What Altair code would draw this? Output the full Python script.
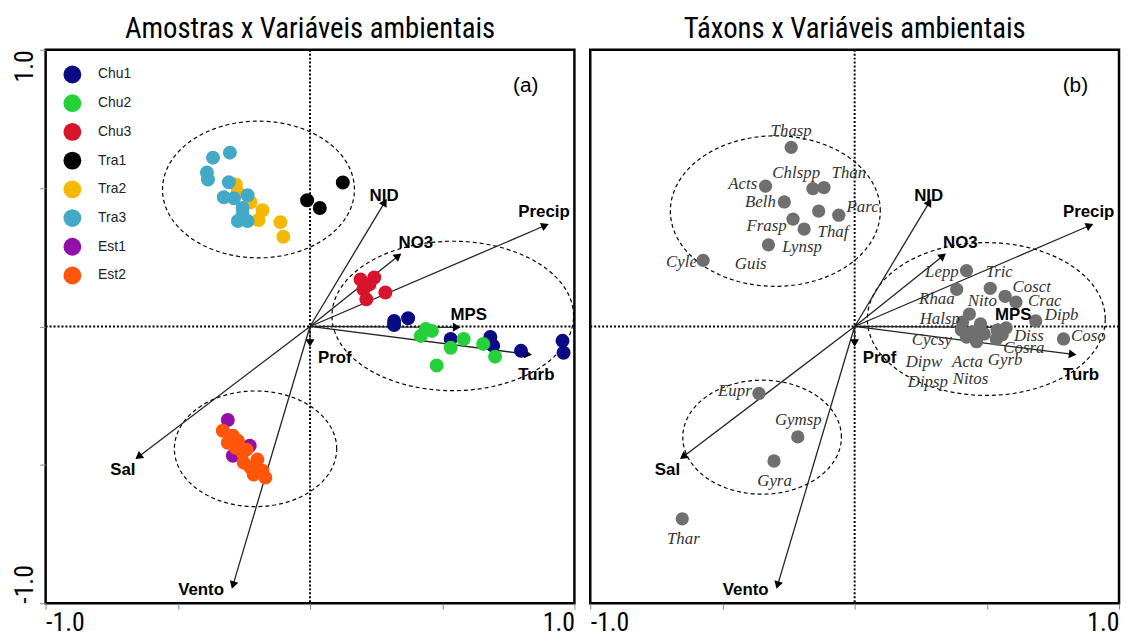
import altair as alt
import pandas as pd
import numpy as np

W, H = 534, 559
NARROW = "Liberation Sans Narrow, Roboto Condensed, DejaVu Sans Condensed, sans-serif"
SANS = "Liberation Sans, Arial, sans-serif"
SERIF = "Liberation Serif, Times New Roman, serif"

# ---------------- panel (a): samples ----------------
groups = ["Chu1", "Chu2", "Chu3", "Tra1", "Tra2", "Tra3", "Est1", "Est2"]
group_colors = ["#0a0a84", "#25d03a", "#d8142c", "#000000", "#f6b700", "#42a9c9", "#930fab", "#ff560a"]

chu1_x = [0.318, 0.371, 0.318, 0.532, 0.682, 0.693, 0.798, 0.955, 0.959]
chu1_y = [0.020, 0.030, 0.005, -0.045, -0.038, -0.070, -0.088, -0.052, -0.095]
chu2_x = [0.419, 0.461, 0.438, 0.532, 0.581, 0.655, 0.700, 0.479]
chu2_y = [-0.034, -0.016, -0.009, -0.077, -0.045, -0.063, -0.109, -0.141]
chu3_x = [0.191, 0.243, 0.202, 0.213, 0.285, 0.225]
chu3_y = [0.170, 0.177, 0.134, 0.098, 0.123, 0.152]
tra1_x = [0.124, -0.011, 0.037]
tra1_y = [0.520, 0.456, 0.428]
tra2_x = [-0.281, -0.273, -0.225, -0.180, -0.195, -0.112, -0.101]
tra2_y = [0.513, 0.485, 0.449, 0.420, 0.385, 0.377, 0.324]
tra3_x = [-0.367, -0.303, -0.390, -0.386, -0.307, -0.326, -0.288, -0.236, -0.255, -0.273, -0.236, -0.255]
tra3_y = [0.610, 0.628, 0.556, 0.531, 0.521, 0.467, 0.463, 0.474, 0.428, 0.381, 0.381, 0.403]
est1_x = [-0.311, -0.228, -0.292]
est1_y = [-0.338, -0.431, -0.467]
est2_x = [-0.330, -0.292, -0.273, -0.311, -0.255, -0.199, -0.251, -0.225, -0.180, -0.169, -0.213, -0.281, -0.240]
est2_y = [-0.377, -0.395, -0.413, -0.420, -0.456, -0.481, -0.492, -0.510, -0.521, -0.546, -0.535, -0.438, -0.445]

# ---------------- environmental vectors (both panels) ----------------
env_names = ["NID", "NO3", "Precip", "MPS", "Turb", "Prof", "Sal", "Vento"]
env_x = [0.28, 0.33, 0.885, 0.55, 0.82, 0.0, -0.645, -0.29]
env_y = [0.445, 0.252, 0.363, -0.003, -0.100, -0.055, -0.468, -0.93]
env_lab_x = [0.28, 0.40, 0.885, 0.60, 0.856, 0.094, -0.708, -0.412]
env_lab_y = [0.47, 0.30, 0.415, 0.043, -0.175, -0.115, -0.519, -0.952]

# ---------------- panel (b): taxa ----------------
taxa = ["Thasp", "Acts", "Chlspp", "Than", "Belh", "Parc", "Frasp", "Thaf", "Lynsp", "Guis", "Cyle",
        "Eupr", "Gymsp", "Gyra", "Thar",
        "Lepp", "Rhaa", "Tric", "Cosct", "Crac", "Dipb", "Coso", "Nito", "Halsp", "Cycsy", "Dipw",
        "Acta", "Nitos", "Dipsp", "Gyrb", "Cosra", "Diss", "", ""]
taxa_x = [-0.240, -0.337, -0.158, -0.116, -0.266, -0.060, -0.233, -0.136, -0.191, -0.326, -0.573,
          -0.362, -0.215, -0.305, -0.652,
          0.423, 0.386, 0.513, 0.569, 0.610, 0.685, 0.790, 0.434, 0.408, 0.404, 0.423,
          0.461, 0.446, 0.476, 0.536, 0.558, 0.573, 0.490, 0.539]
taxa_y = [0.647, 0.507, 0.498, 0.502, 0.450, 0.402, 0.388, 0.417, 0.352, 0.295, 0.239,
          -0.242, -0.399, -0.486, -0.695,
          0.202, 0.134, 0.138, 0.109, 0.088, 0.020, -0.045, 0.045, 0.016, -0.013, -0.038,
          -0.055, -0.020, 0.009, -0.045, -0.030, -0.005, -0.027, -0.013]
taxa_lab_x = [-0.240, -0.423, -0.221, -0.022, -0.356, 0.030, -0.333, -0.082, -0.199, -0.393, -0.655,
              -0.453, -0.213, -0.303, -0.648,
              0.330, 0.311, 0.547, 0.670, 0.719, 0.783, 0.884, 0.483, 0.322, 0.292, 0.262,
              0.427, 0.438, 0.277, 0.569, 0.640, 0.659, 0.490, 0.539]
taxa_lab_y = [0.707, 0.513, 0.553, 0.556, 0.449, 0.430, 0.363, 0.342, 0.288, 0.224, 0.234,
              -0.234, -0.338, -0.560, -0.767,
              0.195, 0.098, 0.195, 0.141, 0.091, 0.041, -0.034, 0.091, 0.027, -0.048, -0.127,
              -0.127, -0.191, -0.202, -0.123, -0.077, -0.034, -0.027, -0.013]

# ---------------- dashed ellipses ----------------
ell_a_cx = [-0.195, 0.54, -0.206]
ell_a_cy = [0.495, 0.038, -0.442]
ell_a_rx = [0.363, 0.457, 0.307]
ell_a_ry = [0.247, 0.27, 0.209]
ell_b_cx = [-0.30, 0.498, -0.35]
ell_b_cy = [0.417, 0.027, -0.40]
ell_b_rx = [0.397, 0.45, 0.30]
ell_b_ry = [0.272, 0.276, 0.206]

# ---------------- build tables ----------------
xs_all = [chu1_x, chu2_x, chu3_x, tra1_x, tra2_x, tra3_x, est1_x, est2_x]
ys_all = [chu1_y, chu2_y, chu3_y, tra1_y, tra2_y, tra3_y, est1_y, est2_y]
rows = []
for g, xs, ys in zip(groups, xs_all, ys_all):
    for x, y in zip(xs, ys):
        rows.append({"grupo": g, "x": x, "y": y})
samples = pd.DataFrame(rows)

env = pd.DataFrame({"name": env_names, "ax": env_x, "ay": env_y,
                    "lx": env_lab_x, "ly": env_lab_y, "x0": 0.0, "y0": 0.0})
# arrowhead rotation in screen space (degrees clockwise from up)
env["ang"] = (np.degrees(np.arctan2(env["ax"] * W / 2, env["ay"] * H / 2)) + 360) % 360

taxa_df = pd.DataFrame({"taxon": taxa, "x": taxa_x, "y": taxa_y, "lx": taxa_lab_x, "ly": taxa_lab_y})

xs_scale = alt.Scale(domain=[-1, 1], nice=False, zero=False)
ys_scale = alt.Scale(domain=[-1, 1], nice=False, zero=False)

x_axis = alt.Axis(values=[-1, -0.5, 0, 0.5, 1],
                  labelExpr="datum.value == -1 ? '-1.0' : (datum.value == 1 ? '1.0' : '')",
                  labelFlush=True, labelOverlap=False, grid=False, domain=False,
                  tickColor="#888888", tickSize=6, tickWidth=1,
                  labelFont=NARROW, labelFontSize=26, labelColor="black", labelPadding=1)
y_axis = alt.Axis(values=[-1, -0.5, 0, 0.5, 1],
                  labelExpr="datum.value == -1 ? '-1.0' : (datum.value == 1 ? '1.0' : '')",
                  labelOverlap=False, grid=False, domain=False, labelAngle=270,
                  labelAlign={"condition": {"test": "datum.value > 0", "value": "right"}, "value": "left"},
                  labelBaseline="bottom",
                  tickColor="#888888", tickSize=6, tickWidth=1,
                  labelFont=NARROW, labelFontSize=26, labelColor="black", labelPadding=2)


def X(field):
    return alt.X(field, type="quantitative", scale=xs_scale, axis=x_axis, title=None)


def Y(field, show_y=True):
    return alt.Y(field, type="quantitative", scale=ys_scale, axis=(y_axis if show_y else None), title=None)


def panel(ecx, ecy, erx, ery, show_y):
    edf = pd.DataFrame({"id": list(range(len(ecx))), "cx": ecx, "cy": ecy, "rx": erx, "ry": ery})
    ell = alt.Chart(edf).transform_calculate(
        t="sequence(0, 6.34, 0.05)"
    ).transform_flatten(["t"]).transform_calculate(
        ex="datum.cx + datum.rx * cos(datum.t)",
        ey="datum.cy + datum.ry * sin(datum.t)"
    ).mark_line(color="black", strokeDash=[4, 3], strokeWidth=1.2).encode(
        x=X("ex"), y=Y("ey", show_y), detail="id:N", order="t:Q")

    cross = pd.DataFrame({"v": [0.0]})
    vline = alt.Chart(cross).mark_rule(color="black", strokeDash=[2, 2], strokeWidth=2).encode(x=X("v"))
    hline = alt.Chart(cross).mark_rule(color="black", strokeDash=[2, 2], strokeWidth=2).encode(y=Y("v", show_y))

    shafts = alt.Chart(env).mark_rule(color="#222222", strokeWidth=1.3).encode(
        x=X("x0"), y=Y("y0", show_y), x2="ax", y2="ay")
    heads = alt.Chart(env).mark_point(shape="triangle", filled=True, size=80, color="black", opacity=1).encode(
        x=X("ax"), y=Y("ay", show_y), angle=alt.Angle("ang:Q", scale=None))
    labels = alt.Chart(env).mark_text(font=SANS, fontWeight="bold", fontSize=17, color="black").encode(
        x=X("lx"), y=Y("ly", show_y), text="name:N")
    return ell, vline, hline, shafts, heads, labels


ell_a, vl_a, hl_a, sh_a, hd_a, lb_a = panel(ell_a_cx, ell_a_cy, ell_a_rx, ell_a_ry, True)
pts_a = alt.Chart(samples).mark_circle(size=200, opacity=1).encode(
    x=X("x"), y=Y("y"),
    color=alt.Color("grupo:N", scale=alt.Scale(domain=groups, range=group_colors),
                    legend=alt.Legend(orient="none", legendX=18, legendY=16, title=None,
                                      symbolType="circle", symbolSize=324, symbolStrokeWidth=0,
                                      symbolOpacity=1, labelFont=SANS, labelFontSize=14,
                                      labelColor="#222222", rowPadding=11, labelOffset=17, padding=0)))
tag_a = alt.Chart(pd.DataFrame({"x": [0.816], "y": [0.868], "t": ["(a)"]})).mark_text(
    font=SANS, fontSize=21, color="black").encode(x=X("x"), y=Y("y"), text="t:N")

chart_a = alt.layer(ell_a, vl_a, hl_a, sh_a, hd_a, pts_a, lb_a, tag_a).properties(
    width=W, height=H, title="Amostras x Variáveis ambientais")

ell_b, vl_b, hl_b, sh_b, hd_b, lb_b = panel(ell_b_cx, ell_b_cy, ell_b_rx, ell_b_ry, False)
pts_b = alt.Chart(taxa_df).mark_circle(size=180, opacity=1, color="#6f6f6f").encode(
    x=X("x"), y=Y("y", False))
txt_b = alt.Chart(taxa_df).mark_text(font=SERIF, fontStyle="italic", fontSize=17, color="#333333").encode(
    x=X("lx"), y=Y("ly", False), text="taxon:N")
tag_b = alt.Chart(pd.DataFrame({"x": [0.835], "y": [0.868], "t": ["(b)"]})).mark_text(
    font=SANS, fontSize=21, color="black").encode(x=X("x"), y=Y("y", False), text="t:N")

chart_b = alt.layer(ell_b, vl_b, hl_b, sh_b, hd_b, pts_b, txt_b, lb_b, tag_b).properties(
    width=W, height=H, title="Táxons x Variáveis ambientais")

chart = alt.hconcat(chart_a, chart_b, spacing=10).properties(
    padding={"left": 2, "top": 2, "right": 0, "bottom": 0},
    background="white"
).configure_view(
    stroke="black", strokeWidth=2.5
).configure_title(
    font=NARROW, fontSize=29, fontWeight="normal", color="black", anchor="middle", offset=5
)

chart.save("out.html", embed_options={"renderer": "svg", "actions": False})
